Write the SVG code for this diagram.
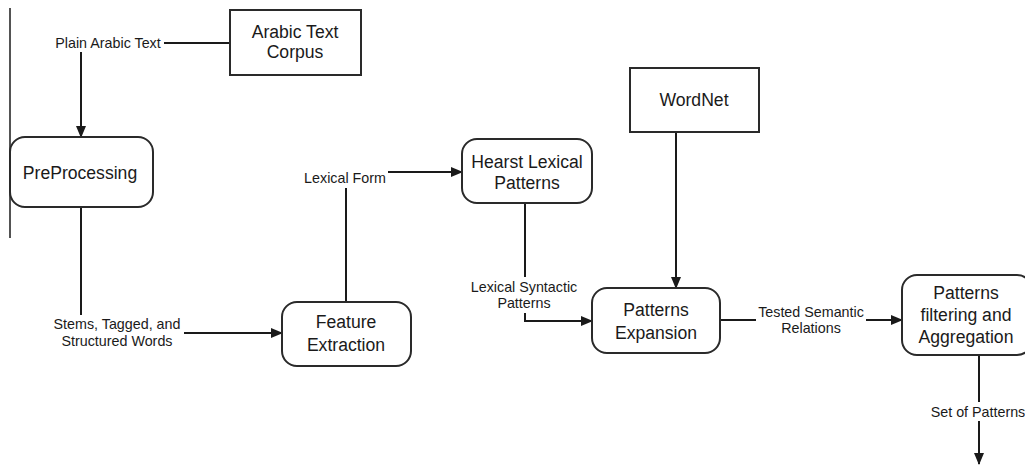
<svg xmlns="http://www.w3.org/2000/svg" width="1025" height="465" viewBox="0 0 1025 465">
  <style>
    .box { fill: #ffffff; stroke: #2a2a2a; stroke-width: 2; }
    .node-text { font-family: "Liberation Sans", Arial, sans-serif; font-size: 17.6px; fill: #1a1a1a; text-anchor: middle; }
    .label { font-family: "Liberation Sans", Arial, sans-serif; font-size: 14.3px; fill: #1a1a1a; text-anchor: middle; }
    .wire { fill: none; stroke: #1a1a1a; stroke-width: 2; }
  </style>
  <defs>
    <marker id="arrow" markerWidth="12" markerHeight="10" refX="11" refY="5" orient="auto" markerUnits="userSpaceOnUse">
      <path d="M0,0 L12,5 L0,10 Z" fill="#1a1a1a"/>
    </marker>
  </defs>

  <rect width="1025" height="465" fill="#ffffff"/>

  <!-- left margin rule -->
  <line x1="10" y1="8" x2="10" y2="238" stroke="#1a1a1a" stroke-width="1.5"/>

  <g id="connectors">
    <!-- corpus to preprocessing -->
    <line class="wire" x1="164" y1="43" x2="230" y2="43"/>
    <line class="wire" x1="81" y1="52" x2="81" y2="137" marker-end="url(#arrow)"/>
    <!-- preprocessing to feature extraction -->
    <line class="wire" x1="81" y1="207" x2="81" y2="315"/>
    <line class="wire" x1="184" y1="333" x2="282" y2="333" marker-end="url(#arrow)"/>
    <!-- feature extraction to hearst -->
    <line class="wire" x1="346" y1="301" x2="346" y2="188"/>
    <line class="wire" x1="388" y1="172" x2="462" y2="172" marker-end="url(#arrow)"/>
    <!-- hearst to patterns expansion -->
    <line class="wire" x1="525" y1="203" x2="525" y2="277"/>
    <polyline class="wire" points="525,313 525,321 592,321" marker-end="url(#arrow)"/>
    <!-- wordnet to patterns expansion -->
    <line class="wire" x1="676" y1="132" x2="676" y2="288" marker-end="url(#arrow)"/>
    <!-- expansion to filtering -->
    <line class="wire" x1="720" y1="320" x2="756" y2="320"/>
    <line class="wire" x1="866" y1="320" x2="902" y2="320" marker-end="url(#arrow)"/>
    <!-- output -->
    <line class="wire" x1="979" y1="355" x2="979" y2="402"/>
    <line class="wire" x1="979" y1="421" x2="979" y2="464" marker-end="url(#arrow)"/>

    <text class="label" x="108" y="48">Plain Arabic Text</text>
    <text class="label" x="117" y="329">Stems, Tagged, and</text>
    <text class="label" x="117" y="346">Structured Words</text>
    <text class="label" x="345" y="183">Lexical Form</text>
    <text class="label" x="524" y="292">Lexical Syntactic</text>
    <text class="label" x="524" y="308">Patterns</text>
    <text class="label" x="811" y="317">Tested Semantic</text>
    <text class="label" x="811" y="333">Relations</text>
    <text class="label" x="978" y="417">Set of Patterns</text>
  </g>

  <g id="arabic-text-corpus">
    <rect class="box" x="230" y="10" width="131" height="65"/>
    <text class="node-text" x="295" y="38">Arabic Text</text>
    <text class="node-text" x="295" y="58">Corpus</text>
  </g>

  <g id="preprocessing">
    <rect class="box" x="10" y="137" width="143" height="70" rx="15"/>
    <text class="node-text" x="80" y="179">PreProcessing</text>
  </g>

  <g id="feature-extraction">
    <rect class="box" x="282" y="302" width="129" height="64" rx="15"/>
    <text class="node-text" x="346" y="328">Feature</text>
    <text class="node-text" x="346" y="351">Extraction</text>
  </g>

  <g id="hearst-lexical-patterns">
    <rect class="box" x="462" y="139" width="130" height="64" rx="15"/>
    <text class="node-text" x="527" y="168">Hearst Lexical</text>
    <text class="node-text" x="527" y="189">Patterns</text>
  </g>

  <g id="wordnet">
    <rect class="box" x="630" y="68" width="129" height="64"/>
    <text class="node-text" x="694" y="106">WordNet</text>
  </g>

  <g id="patterns-expansion">
    <rect class="box" x="592" y="288" width="128" height="65" rx="15"/>
    <text class="node-text" x="656" y="316">Patterns</text>
    <text class="node-text" x="656" y="339">Expansion</text>
  </g>

  <g id="patterns-filtering">
    <rect class="box" x="902" y="275" width="130" height="80" rx="15"/>
    <text class="node-text" x="966" y="299">Patterns</text>
    <text class="node-text" x="966" y="321">filtering and</text>
    <text class="node-text" x="966" y="343">Aggregation</text>
  </g>
</svg>
